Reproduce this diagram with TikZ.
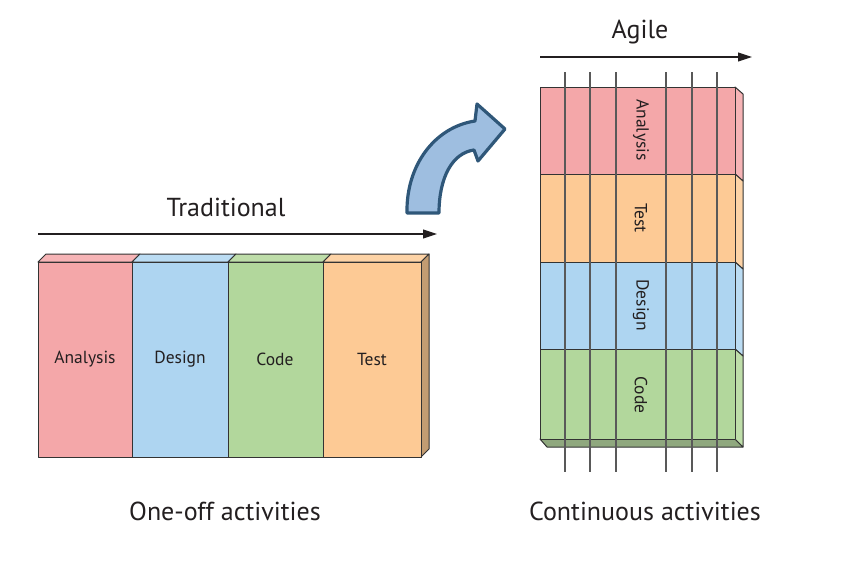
\documentclass[tikz,border=0pt]{standalone}
\usepackage{fontspec}
\setmainfont{PT Sans}
\usetikzlibrary{arrows.meta}
\definecolor{cA}{HTML}{F4A7A9}
\definecolor{cAt}{HTML}{F6B4B6}
\definecolor{cD}{HTML}{AED5F1}
\definecolor{cDt}{HTML}{BBDCF3}
\definecolor{cC}{HTML}{B2D79C}
\definecolor{cCt}{HTML}{BEDDA9}
\definecolor{cT}{HTML}{FDCA95}
\definecolor{cTt}{HTML}{FDD3A6}
\definecolor{cSide}{HTML}{C29C72}
\definecolor{cBot}{HTML}{8FA87E}
\definecolor{arrFill}{HTML}{9EBEE0}
\definecolor{arrLine}{HTML}{2F5779}
\definecolor{txt}{HTML}{231F20}
\tikzset{
  face/.style={draw=black!80, line width=1pt, line join=round},
  flow/.style={draw=txt, line width=1.1pt, -{Triangle[length=14pt,width=9pt]}},
  grid/.style={draw=black!65, line width=1.3pt},
  title/.style={text=txt, font=\fontsize{26}{30}\selectfont, inner sep=0pt},
  lbl/.style={text=txt, font=\fontsize{17.5}{20}\selectfont, inner sep=0pt},
  vlbl/.style={lbl, rotate=-90},
}
\begin{document}
\begin{tikzpicture}[x=1pt,y=-1pt]
\useasboundingbox (0,0) rectangle (863,562);
\fill[white] (0,0) rectangle (863,562);

% ---------- Traditional block ----------
% top faces
\path[face, fill=cAt] (38,262) -- (46,254) -- (140,254) -- (132,262) -- cycle;
\path[face, fill=cDt] (132,262) -- (140,254) -- (236,254) -- (228,262) -- cycle;
\path[face, fill=cCt] (228,262) -- (236,254) -- (331,254) -- (323,262) -- cycle;
\path[face, fill=cTt] (323,262) -- (331,254) -- (429,254) -- (421,262) -- cycle;
% right side
\path[face, fill=cSide] (421,262) -- (429,254) -- (429,449) -- (421,457) -- cycle;
% front faces
\node[face, fill=cA, minimum width=94pt, minimum height=195pt, inner sep=0pt, anchor=north west] (tA) at (38,262) {};
\node[face, fill=cD, minimum width=96pt, minimum height=195pt, inner sep=0pt, anchor=north west] (tD) at (132,262) {};
\node[face, fill=cC, minimum width=95pt, minimum height=195pt, inner sep=0pt, anchor=north west] (tC) at (228,262) {};
\node[face, fill=cT, minimum width=98pt, minimum height=195pt, inner sep=0pt, anchor=north west] (tT) at (323,262) {};
\node[lbl] (lA) at (85,359) {Analysis};
\node[lbl] (lD) at (180,359) {Design};
\node[lbl] (lC) at (275,359) {Code};
\node[lbl] (lT) at (372,359) {Test};

% traditional arrow + labels
\coordinate (trS) at (38,234);
\coordinate (trE) at (437,234);
\draw[flow] (trS) -- (trE);
\node[title] (trad) at (226,207) {Traditional};
\node[title] (oneoff) at (225,511) {One-off activities};

% ---------- Agile block ----------
% bottom face
\path[face, fill=cBot] (540,439) -- (547,447) -- (743,447) -- (735,439) -- cycle;
% right side faces
\path[face, fill=cAt] (735,87) -- (743,94) -- (743,181) -- (735,174) -- cycle;
\path[face, fill=cTt] (735,174) -- (743,181) -- (743,269) -- (735,262) -- cycle;
\path[face, fill=cDt] (735,262) -- (743,269) -- (743,356) -- (735,349) -- cycle;
\path[face, fill=cCt] (735,349) -- (743,356) -- (743,447) -- (735,439) -- cycle;
% front bands
\node[face, fill=cA, minimum width=195pt, minimum height=87pt, inner sep=0pt, anchor=north west] (aA) at (540,87) {};
\node[face, fill=cT, minimum width=195pt, minimum height=88pt, inner sep=0pt, anchor=north west] (aT) at (540,174) {};
\node[face, fill=cD, minimum width=195pt, minimum height=87pt, inner sep=0pt, anchor=north west] (aD) at (540,262) {};
\node[face, fill=cC, minimum width=195pt, minimum height=90pt, inner sep=0pt, anchor=north west] (aC) at (540,349) {};
% vertical lines
\foreach \x/\n in {565/1,590/2,616/3,666/4,692/5,717/6}{
  \coordinate (vt\n) at (\x,72);
  \coordinate (vb\n) at (\x,472);
  \draw[grid] (vt\n) -- (vb\n);
}
\node[vlbl] (vA) at (641,130) {Analysis};
\node[vlbl] (vT) at (641,218) {Test};
\node[vlbl] (vD) at (641,305) {Design};
\node[vlbl] (vC) at (641,395) {Code};

% agile arrow + labels
\coordinate (agS) at (540,57);
\coordinate (agE) at (752,57);
\draw[flow] (agS) -- (agE);
\node[title] (agile) at (640,32) {Agile};
\node[title] (cont) at (645,511) {Continuous activities};

% ---------- curved blue arrow ----------
\path[draw=arrLine, fill=arrFill, line width=3.2pt, line join=round]
  (407,213) .. controls (406,165) and (435,127) .. (475,121)
  -- (477,104) -- (505,129) -- (478,161) -- (474,150)
  .. controls (452,153) and (439,178) .. (439,213) -- cycle;
\end{tikzpicture}
\end{document}
